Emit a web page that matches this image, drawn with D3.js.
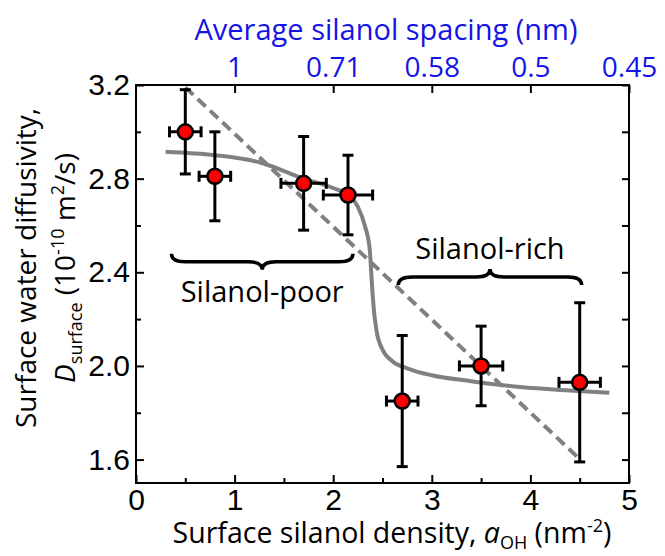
<!DOCTYPE html>
<html>
<head>
<meta charset="utf-8">
<script src="https://cdn.jsdelivr.net/npm/d3@7"></script>
<style>
  body { margin: 0; background: #fff; }
  svg { display: block; }
</style>
</head>
<body>
<svg id="chart" width="665" height="556"></svg>
<script>
// measured points
var density     = [0.5, 0.8, 1.7, 2.15, 2.7, 3.5, 4.5];
var diffusivity = [3.0, 2.81, 2.78, 2.73, 1.85, 2.0, 1.93];
var diffLow     = [2.82, 2.62, 2.58, 2.56, 1.57, 1.83, 1.59];
var diffHigh    = [3.18, 3.0, 2.98, 2.90, 2.13, 2.17, 2.27];
var densityErr  = [0.16, 0.16, 0.23, 0.25, 0.16, 0.22, 0.21];

// sigmoid fit (solid grey)
var fitX = [0.3, 0.8, 1.25, 1.7, 2.0, 2.15, 2.25, 2.32, 2.37, 2.39, 2.41, 2.44, 2.5, 2.6, 2.75, 3.0, 3.4, 3.9, 4.4, 4.8];
var fitY = [2.915, 2.90, 2.87, 2.80, 2.76, 2.73, 2.68, 2.60, 2.50, 2.37, 2.25, 2.15, 2.07, 2.02, 1.99, 1.96, 1.935, 1.91, 1.895, 1.885];

// linear trend (dashed grey)
var trendX = [0.5, 4.48];
var trendY = [3.19, 1.61];

// braces
var braceLabels = ['Silanol-poor', 'Silanol-rich'];
var braceX0 = [0.36, 2.66];
var braceX1 = [2.2, 4.52];
var braceY  = [2.445, 2.38];
var braceTip = [1, -1];   // 1 = tip points down

// axes
var xTicks = [0, 1, 2, 3, 4, 5];
var xMinor = [0.5, 1.5, 2.5, 3.5, 4.5];
var yTicks = [1.6, 2.0, 2.4, 2.8, 3.2];
var yMinor = [1.8, 2.2, 2.6, 3.0];
var spacingAt = [1, 2, 3, 4, 5];
var spacingLabels = ['1', '0.71', '0.58', '0.5', '0.45'];

var margin = { top: 85, right: 36, bottom: 73, left: 136 };
var width = 665 - margin.left - margin.right;
var height = 556 - margin.top - margin.bottom;
var blue = '#1414e6';
var grey = '#808080';
var font = '"Open Sans", sans-serif';

var svg = d3.select('#chart');
var g = svg.append('g').attr('transform', 'translate(' + margin.left + ',' + margin.top + ')');

var x = d3.scaleLinear().domain([0, 5]).range([0, width]);
var y = d3.scaleLinear().domain([1.5, 3.2]).range([height, 0]);

// bottom axis
g.append('g').attr('class', 'axis').attr('transform', 'translate(0,' + height + ')')
  .call(d3.axisBottom(x).tickValues(xTicks).tickFormat(d3.format('d')).tickSize(-8).tickPadding(6));
g.append('g').attr('class', 'axis').attr('transform', 'translate(0,' + height + ')')
  .call(d3.axisBottom(x).tickValues(xMinor).tickFormat('').tickSize(-5));

// left axis
g.append('g').attr('class', 'axis')
  .call(d3.axisLeft(y).tickValues(yTicks).tickFormat(d3.format('.1f')).tickSize(-8).tickPadding(6));
g.append('g').attr('class', 'axis')
  .call(d3.axisLeft(y).tickValues(yMinor).tickFormat('').tickSize(-5));

// right axis
g.append('g').attr('class', 'axis').attr('transform', 'translate(' + width + ',0)')
  .call(d3.axisRight(y).tickValues(yTicks.concat(yMinor)).tickFormat('').tickSize(-7));

// top axis: spacing = 1/sqrt(density)
var topAxis = g.append('g').attr('class', 'axis topaxis')
  .call(d3.axisTop(x).tickValues(spacingAt).tickFormat(function(d, i){ return spacingLabels[i]; }).tickSize(-8).tickPadding(8));

g.selectAll('.axis .domain').remove();
g.selectAll('.axis line').attr('stroke', '#000').attr('stroke-width', 2);
g.selectAll('.axis text').attr('fill', '#000')
  .style('font-family', '"Liberation Sans", Arial, sans-serif').style('font-size', '30px');
topAxis.selectAll('text').attr('fill', blue)
  .style('font-family', font).style('font-size', '28px');

g.append('rect').attr('width', width).attr('height', height)
  .attr('fill', 'none').attr('stroke', '#000').attr('stroke-width', 2);

// fit lines
var line = d3.line().x(function(d){ return x(d[0]); }).y(function(d){ return y(d[1]); });
g.append('path').datum(d3.zip(fitX, fitY))
  .attr('d', line.curve(d3.curveMonotoneX))
  .attr('fill', 'none').attr('stroke', grey).attr('stroke-width', 4);
g.append('path').datum(d3.zip(trendX, trendY))
  .attr('d', d3.line().x(function(d){ return x(d[0]); }).y(function(d){ return y(d[1]); }))
  .attr('fill', 'none').attr('stroke', grey).attr('stroke-width', 4).attr('stroke-dasharray', '11,6');

// braces
function bracePath(x0, x1, yy, dir){
  var h = 8, r = 14, xm = (x0 + x1) / 2;
  return 'M' + x0 + ',' + (yy - dir * h) +
    'Q' + x0 + ',' + yy + ',' + (x0 + r) + ',' + yy +
    'L' + (xm - r) + ',' + yy +
    'Q' + xm + ',' + yy + ',' + xm + ',' + (yy + dir * h) +
    'Q' + xm + ',' + yy + ',' + (xm + r) + ',' + yy +
    'L' + (x1 - r) + ',' + yy +
    'Q' + x1 + ',' + yy + ',' + x1 + ',' + (yy - dir * h);
}
braceLabels.forEach(function(lab, i){
  var x0 = x(braceX0[i]), x1 = x(braceX1[i]), yy = y(braceY[i]);
  g.append('path').attr('d', bracePath(x0, x1, yy, braceTip[i]))
    .attr('fill', 'none').attr('stroke', '#000').attr('stroke-width', 3.5);
  g.append('text').attr('x', (x0 + x1) / 2)
    .attr('y', braceTip[i] > 0 ? yy + 40 : yy - 18)
    .attr('text-anchor', 'middle')
    .style('font-family', font).style('font-size', '29px')
    .text(lab);
});

// error bars and points
var pts = density.map(function(d, i){
  return { x: d, y: diffusivity[i], lo: diffLow[i], hi: diffHigh[i], xe: densityErr[i] };
});
var cap = 5.5;
var pg = g.selectAll('g.pt').data(pts).enter().append('g').attr('class', 'pt')
  .attr('stroke', '#000').attr('stroke-width', 3);
pg.append('line')
  .attr('x1', function(d){ return x(d.x); }).attr('x2', function(d){ return x(d.x); })
  .attr('y1', function(d){ return y(d.lo); }).attr('y2', function(d){ return y(d.hi); });
pg.append('line')
  .attr('x1', function(d){ return x(d.x - d.xe); }).attr('x2', function(d){ return x(d.x + d.xe); })
  .attr('y1', function(d){ return y(d.y); }).attr('y2', function(d){ return y(d.y); });
['lo', 'hi'].forEach(function(k){
  pg.append('line')
    .attr('x1', function(d){ return x(d.x) - cap; }).attr('x2', function(d){ return x(d.x) + cap; })
    .attr('y1', function(d){ return y(d[k]); }).attr('y2', function(d){ return y(d[k]); });
});
[-1, 1].forEach(function(s){
  pg.append('line')
    .attr('x1', function(d){ return x(d.x + s * d.xe); }).attr('x2', function(d){ return x(d.x + s * d.xe); })
    .attr('y1', function(d){ return y(d.y) - cap; }).attr('y2', function(d){ return y(d.y) + cap; });
});
pg.append('circle')
  .attr('cx', function(d){ return x(d.x); }).attr('cy', function(d){ return y(d.y); })
  .attr('r', 7.5).attr('fill', '#ff0000').attr('stroke-width', 2.5);

// titles
svg.append('text').attr('x', 386).attr('y', 40).attr('text-anchor', 'middle')
  .attr('fill', blue).style('font-family', font).style('font-size', '29px')
  .text('Average silanol spacing (nm)');

var xt = svg.append('text').attr('x', 392).attr('y', 543).attr('text-anchor', 'middle')
  .style('font-family', font).style('font-size', '28.5px');
xt.append('tspan').text('Surface silanol density, ');
xt.append('tspan').style('font-style', 'italic').text('a');
xt.append('tspan').attr('dy', 6).style('font-size', '18px').text('OH');
xt.append('tspan').attr('dy', -6).text(' (nm');
xt.append('tspan').attr('dy', -11).style('font-size', '18px').text('-2');
xt.append('tspan').attr('dy', 11).text(')');

var yt = svg.append('g').attr('transform', 'translate(36,268) rotate(-90)');
yt.append('text').attr('text-anchor', 'middle').style('font-family', font).style('font-size', '28px')
  .text('Surface water diffusivity,');
var yt2 = yt.append('text').attr('y', 39).attr('text-anchor', 'middle')
  .style('font-family', font).style('font-size', '28px');
yt2.append('tspan').style('font-style', 'italic').text('D');
yt2.append('tspan').attr('dy', 7).style('font-size', '18px').text('surface');
yt2.append('tspan').attr('dy', -7).text(' (10');
yt2.append('tspan').attr('dy', -11).style('font-size', '18px').text('-10');
yt2.append('tspan').attr('dy', 11).text(' m');
yt2.append('tspan').attr('dy', -11).style('font-size', '18px').text('2');
yt2.append('tspan').attr('dy', 11).text('/s)');
</script>
</body>
</html>
